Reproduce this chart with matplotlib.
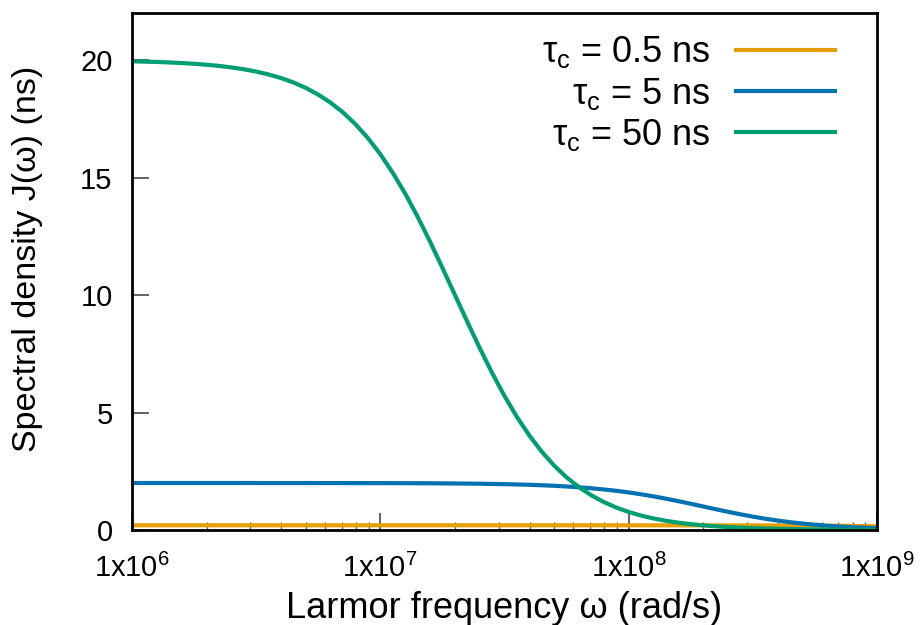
import math

import matplotlib.pyplot as plt
from matplotlib.ticker import FixedLocator, FuncFormatter, LogLocator, NullFormatter

plt.rcParams["font.family"] = ["Liberation Sans", "DejaVu Sans"]
plt.rcParams["mathtext.fontset"] = "custom"
plt.rcParams["mathtext.rm"] = "Liberation Sans"
plt.rcParams["mathtext.it"] = "Liberation Sans:italic"

# Larmor frequency samples (rad/s), twenty per decade
decade = [1.000, 1.122, 1.259, 1.413, 1.585, 1.778, 1.995, 2.239, 2.512, 2.818,
          3.162, 3.548, 3.981, 4.467, 5.012, 5.623, 6.310, 7.079, 7.943, 8.913]
omega = [m * 1e6 for m in decade] + [m * 1e7 for m in decade] + [m * 1e8 for m in decade] + [1e9]

# spectral density (ns)
j_05ns = [0.200] * 40 + [
    0.1995, 0.1994, 0.1992, 0.1990, 0.1988, 0.1984, 0.1980, 0.1975, 0.1969, 0.1961,
    0.1951, 0.1939, 0.1924, 0.1905, 0.1882, 0.1853, 0.1819, 0.1777, 0.1727, 0.1669,
    0.1600]
j_5ns = [2.000] * 10 + [
    1.999, 1.999, 1.999, 1.999, 1.999, 1.998, 1.998, 1.998, 1.997, 1.996,
    1.995, 1.994, 1.992, 1.990, 1.988, 1.984, 1.980, 1.975, 1.969, 1.961,
    1.951, 1.939, 1.924, 1.905, 1.882, 1.853, 1.819, 1.777, 1.727, 1.669,
    1.600, 1.521, 1.433, 1.334, 1.229, 1.117, 1.003, 0.888, 0.776, 0.670,
    0.571, 0.482, 0.403, 0.334, 0.275, 0.225, 0.183, 0.148, 0.119, 0.096,
    0.077]
j_50ns = [
    19.950, 19.937, 19.921, 19.901, 19.875, 19.843, 19.803, 19.753, 19.689, 19.611,
    19.512, 19.389, 19.238, 19.050, 18.818, 18.534, 18.190, 17.773, 17.274, 16.686,
    16.000, 15.209, 14.327, 13.342, 12.285, 11.167, 10.025, 8.877, 7.758, 6.698,
    5.714, 4.819, 4.032, 3.339, 2.747, 2.245, 1.826, 1.478, 1.192, 0.959,
    0.769, 0.615, 0.493, 0.393, 0.313, 0.250, 0.199, 0.158, 0.126, 0.100,
    0.080, 0.063, 0.050, 0.040, 0.032, 0.025, 0.020, 0.016, 0.013, 0.010,
    0.008]

labels = [r"τ$_{\mathrm{c}}$ = 0.5 ns", r"τ$_{\mathrm{c}}$ = 5 ns", r"τ$_{\mathrm{c}}$ = 50 ns"]
colors = ["#e69f00", "#0072b2", "#009e73"]
y_ticks = [0, 5, 10, 15, 20]
x_ticks = [1e6, 1e7, 1e8, 1e9]

fig = plt.figure(figsize=(9.21, 6.25), dpi=100)
ax = fig.add_axes([0.1433, 0.152, 0.8087, 0.827])

for ys, lab, col in zip([j_05ns, j_5ns, j_50ns], labels, colors):
    ax.plot(omega, ys, color=col, lw=3.0, label=lab, solid_capstyle="butt")

ax.set_xscale("log")
ax.set_xlim(1e6, 1e9)
ax.set_ylim(0, 22)

ax.xaxis.set_major_locator(FixedLocator(x_ticks))
ax.xaxis.set_major_formatter(FuncFormatter(lambda v, p: "1x10$^{%d}$" % round(math.log10(v))))
ax.xaxis.set_minor_locator(LogLocator(base=10, subs=range(2, 10)))
ax.xaxis.set_minor_formatter(NullFormatter())
ax.yaxis.set_major_locator(FixedLocator(y_ticks))

ax.tick_params(axis="both", which="major", direction="in", length=12, width=1.3,
               color="#555555", labelsize=21, top=False, right=False)
ax.tick_params(axis="both", which="minor", direction="in", length=6, width=1.0,
               color="#555555", top=False, right=False)
ax.tick_params(axis="y", which="major", pad=14)
ax.tick_params(axis="x", which="major", pad=17)

for s in ax.spines.values():
    s.set_linewidth(2.0)

ax.set_xlabel("Larmor frequency ω (rad/s)", fontsize=26, labelpad=6)
ax.set_ylabel("Spectral density J(ω) (ns)", fontsize=24.5)
ax.yaxis.set_label_coords(-0.1195, 0.524)

ax.legend(loc="upper right", bbox_to_anchor=(0.99, 1.022), frameon=False, fontsize=26,
          markerfirst=False, handlelength=2.85, handletextpad=0.65, labelspacing=0.15)

plt.savefig("out.png", dpi=100)
